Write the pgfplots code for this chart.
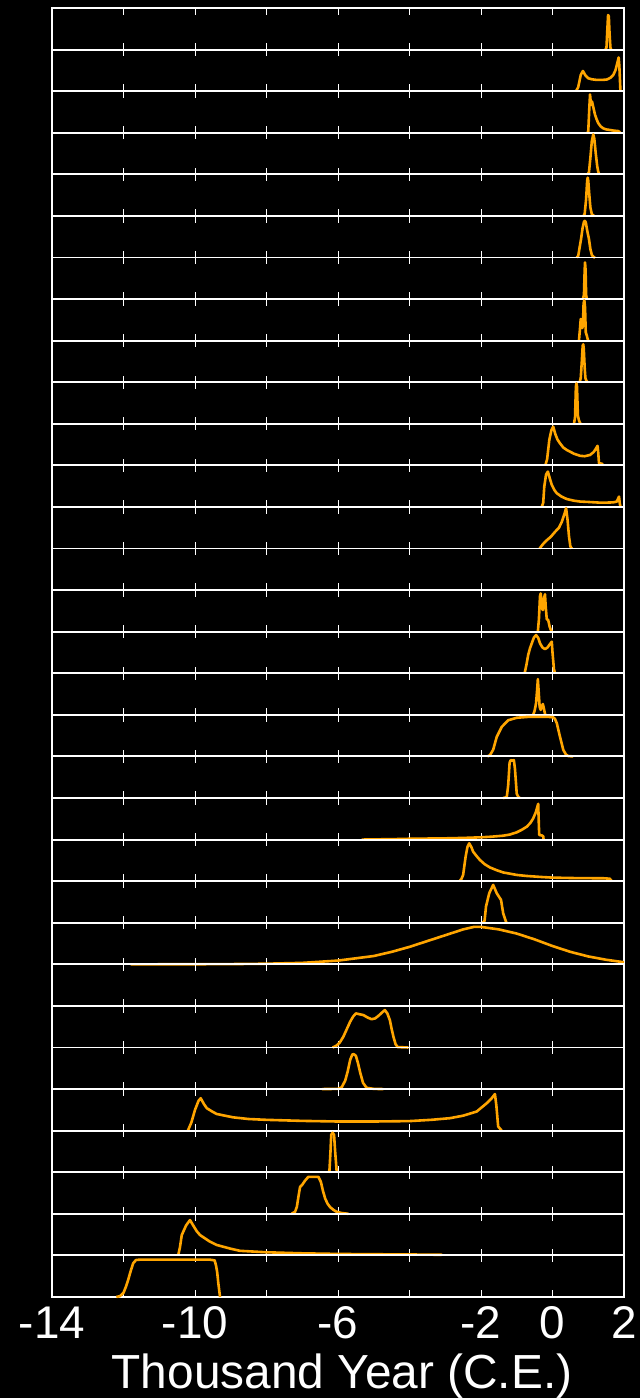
\documentclass[border=0pt]{standalone}
\usepackage{fontspec}
\setmainfont{Liberation Sans}
\usepackage{pgfplots}
\pgfplotsset{compat=1.18}
\definecolor{curvecol}{RGB}{255,165,0}
\pgfplotsset{
 panel/.style={
  width=572bp, height=41.58bp, scale only axis,
  anchor=south west,
  xmin=-14, xmax=2, ymin=0, ymax=1,
  ytick=\empty,
  xtick={-14,-12,...,2},
  xticklabels={},
  tick align=inside,
  major tick length=6.7bp,
  axis line style={white, line width=1.9bp},
  tick style={white, line width=1bp},
  clip=false,
 },
}
\newcommand{\panel}[2]{%
 \pgfmathsetmacro{\yb}{1390-41.58*#1}%
 \begin{axis}[panel, at={(52bp,\yb bp)}]
 \addplot[curvecol, line width=2.6bp, line join=round] coordinates {#2};
 \end{axis}}
\newcommand{\emptypanel}[1]{%
 \pgfmathsetmacro{\yb}{1390-41.58*#1}%
 \begin{axis}[panel, at={(52bp,\yb bp)}]
 \end{axis}}
\begin{document}
\begin{tikzpicture}
\fill[black, use as bounding box] (0,0) rectangle (640bp,1398bp);
\panel{1}{(1.48,0)(1.51,0.05)(1.535,0.5)(1.555,0.83)(1.575,0.8)(1.595,0.4)(1.62,0.05)(1.64,0)}
\panel{2}{(0.66,0)(0.72,0.1)(0.79,0.39)(0.85,0.485)(0.92,0.38)(1.0,0.31)(1.1,0.285)(1.24,0.27)(1.4,0.27)(1.52,0.28)(1.62,0.32)(1.7,0.39)(1.76,0.5)(1.8,0.63)(1.85,0.81)(1.87,0.6)(1.9,0)}
\panel{3}{(0.98,0)(1.0,0.03)(1.03,0.6)(1.05,0.92)(1.077,0.67)(1.105,0.75)(1.15,0.58)(1.19,0.43)(1.24,0.31)(1.28,0.23)(1.35,0.15)(1.42,0.105)(1.5,0.08)(1.61,0.065)(1.72,0.05)(1.84,0.04)(1.87,0.02)(1.89,0)}
\panel{4}{(0.98,0)(1.02,0.05)(1.06,0.4)(1.1,0.8)(1.14,0.96)(1.17,0.85)(1.21,0.5)(1.25,0.2)(1.28,0.06)(1.31,0)}
\panel{5}{(0.87,0)(0.9,0.05)(0.94,0.4)(0.97,0.85)(0.985,0.92)(1.0,0.85)(1.03,0.5)(1.06,0.2)(1.1,0.04)(1.16,0)}
\panel{6}{(0.68,0)(0.72,0.04)(0.76,0.25)(0.8,0.45)(0.84,0.7)(0.88,0.86)(0.9,0.88)(0.93,0.85)(0.97,0.65)(1.02,0.44)(1.06,0.2)(1.1,0.06)(1.15,0.01)(1.19,0)}
\panel{7}{(0.85,0)(0.88,0.1)(0.9,0.7)(0.91,0.88)(0.925,0.7)(0.94,0.1)(0.96,0)}
\panel{8}{(0.74,0)(0.77,0.3)(0.79,0.52)(0.81,0.5)(0.83,0.3)(0.85,0.35)(0.87,0.9)(0.89,0.97)(0.91,0.8)(0.93,0.2)(0.96,0.12)(0.98,0.05)(1.0,0)}
\panel{9}{(0.76,0)(0.79,0.1)(0.82,0.5)(0.845,0.88)(0.86,0.91)(0.875,0.8)(0.9,0.35)(0.92,0.1)(0.95,0.03)(0.99,0)}
\panel{10}{(0.6,0)(0.63,0.15)(0.655,0.9)(0.67,0.97)(0.685,0.9)(0.71,0.2)(0.74,0.08)(0.77,0.02)(0.79,0)}
\panel{11}{(-0.2,0)(-0.15,0.15)(-0.09,0.61)(-0.03,0.85)(0.02,0.93)(0.08,0.75)(0.14,0.62)(0.21,0.53)(0.3,0.43)(0.4,0.37)(0.49,0.33)(0.6,0.28)(0.77,0.23)(0.9,0.22)(1.05,0.25)(1.15,0.32)(1.19,0.37)(1.26,0.47)(1.28,0.3)(1.3,0.05)(1.39,0.04)(1.4,0)}
\panel{12}{(-0.3,0)(-0.26,0.1)(-0.23,0.49)(-0.18,0.78)(-0.13,0.85)(-0.08,0.7)(-0.02,0.53)(0.05,0.41)(0.12,0.33)(0.25,0.25)(0.4,0.19)(0.6,0.15)(0.77,0.13)(1.0,0.12)(1.3,0.105)(1.52,0.105)(1.7,0.11)(1.8,0.13)(1.86,0.25)(1.88,0.1)(1.9,0)}
\panel{13}{(-0.36,0)(-0.3,0.07)(-0.22,0.15)(-0.16,0.2)(-0.05,0.28)(0.07,0.4)(0.18,0.5)(0.26,0.64)(0.33,0.82)(0.38,0.97)(0.42,0.7)(0.46,0.3)(0.5,0.05)(0.54,0)}
\emptypanel{14}
\panel{15}{(-0.41,0)(-0.38,0.3)(-0.35,0.85)(-0.33,0.92)(-0.31,0.75)(-0.29,0.55)(-0.27,0.52)(-0.24,0.8)(-0.21,0.9)(-0.19,0.6)(-0.16,0.3)(-0.12,0.28)(-0.08,0.12)(-0.04,0.03)(-0.02,0)}
\panel{16}{(-0.78,0)(-0.73,0.2)(-0.68,0.44)(-0.63,0.6)(-0.58,0.72)(-0.52,0.86)(-0.46,0.92)(-0.4,0.85)(-0.35,0.72)(-0.28,0.62)(-0.21,0.58)(-0.14,0.62)(-0.09,0.68)(-0.02,0.76)(0.0,0.5)(0.04,0.1)(0.07,0)}
\panel{17}{(-0.54,0)(-0.5,0.1)(-0.46,0.28)(-0.43,0.6)(-0.41,0.86)(-0.39,0.6)(-0.36,0.2)(-0.33,0.12)(-0.3,0.2)(-0.27,0.26)(-0.24,0.15)(-0.21,0.02)(-0.19,0)}
\panel{18}{(-1.82,0)(-1.75,0.03)(-1.66,0.16)(-1.56,0.47)(-1.42,0.71)(-1.24,0.87)(-1.0,0.93)(-0.7,0.95)(-0.4,0.95)(-0.1,0.95)(0.02,0.94)(0.07,0.9)(0.12,0.8)(0.21,0.47)(0.3,0.16)(0.38,0.04)(0.44,0.01)(0.58,0)}
\panel{19}{(-1.38,0)(-1.28,0.02)(-1.24,0.3)(-1.2,0.85)(-1.17,0.91)(-1.12,0.9)(-1.08,0.91)(-1.05,0.7)(-1.0,0.1)(-0.95,0.02)(-0.91,0)}
\panel{20}{(-5.34,0)(-5.0,0.005)(-4.5,0.01)(-4.0,0.02)(-3.0,0.03)(-2.5,0.04)(-2.0,0.055)(-1.7,0.07)(-1.38,0.094)(-1.2,0.12)(-1.0,0.175)(-0.85,0.24)(-0.72,0.31)(-0.62,0.4)(-0.54,0.51)(-0.47,0.65)(-0.4,0.86)(-0.38,0.3)(-0.37,0.11)(-0.3,0.1)(-0.26,0.08)(-0.25,0)}
\panel{21}{(-2.6,0)(-2.55,0.05)(-2.5,0.15)(-2.43,0.59)(-2.38,0.82)(-2.33,0.91)(-2.27,0.82)(-2.22,0.71)(-2.12,0.6)(-2.03,0.51)(-1.9,0.41)(-1.75,0.33)(-1.55,0.26)(-1.38,0.21)(-1.0,0.15)(-0.72,0.125)(-0.3,0.1)(0.02,0.085)(0.6,0.075)(1.0,0.072)(1.42,0.07)(1.6,0.06)(1.66,0)}
\panel{22}{(-1.95,0)(-1.9,0.05)(-1.86,0.39)(-1.77,0.71)(-1.66,0.91)(-1.56,0.71)(-1.44,0.55)(-1.38,0.23)(-1.3,0.02)(-1.28,0)}
\panel{23}{(-11.8,0)(-10,0.002)(-9,0.006)(-8,0.015)(-7,0.035)(-6,0.09)(-5,0.2)(-4.5,0.3)(-4,0.42)(-3.5,0.56)(-3,0.7)(-2.5,0.84)(-2.2,0.9)(-2,0.9)(-1.5,0.84)(-1,0.74)(-0.5,0.6)(0,0.44)(0.5,0.3)(1,0.19)(1.5,0.11)(2,0.05)}
\emptypanel{24}
\panel{25}{(-6.15,0)(-6.05,0.04)(-5.95,0.12)(-5.85,0.26)(-5.75,0.45)(-5.66,0.62)(-5.58,0.74)(-5.5,0.82)(-5.4,0.8)(-5.29,0.78)(-5.17,0.72)(-5.06,0.68)(-4.96,0.7)(-4.87,0.76)(-4.77,0.84)(-4.69,0.9)(-4.62,0.82)(-4.55,0.66)(-4.5,0.45)(-4.45,0.26)(-4.39,0.08)(-4.33,0.01)(-4.03,0)}
\panel{26}{(-6.45,0)(-6.0,0.005)(-5.9,0.04)(-5.8,0.2)(-5.73,0.42)(-5.66,0.7)(-5.6,0.83)(-5.56,0.84)(-5.5,0.8)(-5.44,0.62)(-5.38,0.4)(-5.3,0.15)(-5.2,0.03)(-5.0,0.005)(-4.73,0)}
\panel{27}{(-10.2,0)(-10.1,0.2)(-10.0,0.5)(-9.9,0.72)(-9.84,0.78)(-9.75,0.64)(-9.67,0.54)(-9.5,0.45)(-9.39,0.4)(-8.93,0.32)(-8.5,0.28)(-8.0,0.26)(-7,0.235)(-6.0,0.22)(-5,0.22)(-4.0,0.23)(-3.4,0.26)(-2.87,0.3)(-2.5,0.36)(-2.12,0.46)(-1.84,0.66)(-1.7,0.78)(-1.61,0.88)(-1.57,0.6)(-1.52,0.1)(-1.42,0)}
\panel{28}{(-6.27,0)(-6.24,0.03)(-6.21,0.5)(-6.19,0.9)(-6.15,0.95)(-6.11,0.9)(-6.08,0.5)(-6.04,0.05)(-6.02,0)}
\panel{29}{(-7.3,0)(-7.2,0.05)(-7.15,0.17)(-7.1,0.45)(-7.06,0.65)(-7.0,0.7)(-6.92,0.8)(-6.83,0.89)(-6.7,0.89)(-6.55,0.89)(-6.48,0.77)(-6.42,0.55)(-6.36,0.37)(-6.29,0.24)(-6.22,0.16)(-6.12,0.09)(-6.04,0.05)(-5.9,0.02)(-5.71,0)}
\panel{30}{(-10.47,0)(-10.42,0.2)(-10.37,0.49)(-10.25,0.72)(-10.14,0.85)(-10.05,0.72)(-9.95,0.58)(-9.86,0.49)(-9.6,0.34)(-9.39,0.25)(-9.0,0.16)(-8.74,0.11)(-8.0,0.075)(-7.0,0.05)(-6.0,0.035)(-5.0,0.028)(-4.0,0.022)(-3.1,0.015)(-3.09,0)}
\pgfmathsetmacro{\yb}{1390-41.58*31}
\begin{axis}[panel, at={(52bp,\yb bp)},
  xticklabels={-14,,-10,,-6,,-2,0,2},
  xticklabel style={anchor=base, inner sep=0pt, yshift=-41.3bp, text=white, font=\fontsize{46}{50}\selectfont},
  xlabel={Thousand Year (C.E.)},
  xlabel style={at={(axis description cs:0.5,0)}, anchor=base, inner sep=0pt, xshift=4bp, yshift=-91.3bp, text=white, font=\fontsize{48}{52}\selectfont}]
\addplot[curvecol, line width=2.6bp, line join=round] coordinates {(-12.2,0)(-12.1,0.02)(-12.0,0.1)(-11.93,0.25)(-11.87,0.41)(-11.8,0.62)(-11.73,0.81)(-11.65,0.89)(-11.5,0.9)(-11,0.9)(-10.5,0.9)(-10,0.9)(-9.6,0.9)(-9.45,0.88)(-9.41,0.75)(-9.38,0.6)(-9.35,0.35)(-9.3,0)};
\end{axis}
\end{tikzpicture}
\end{document}
